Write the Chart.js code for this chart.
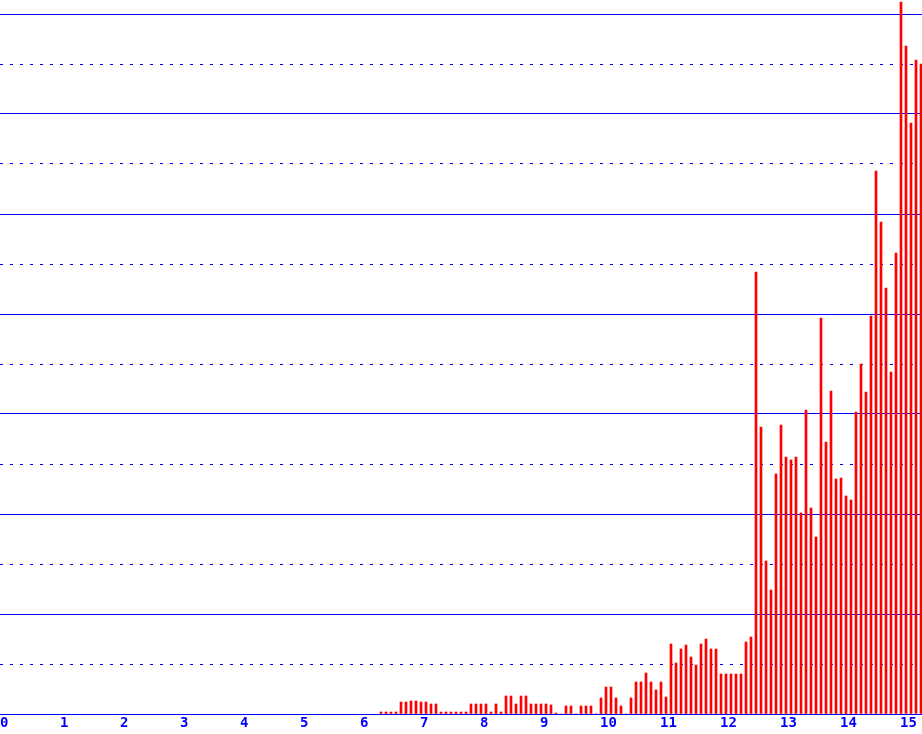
<!DOCTYPE html>
<html>
<head>
<meta charset="utf-8">
<script src="https://cdn.jsdelivr.net/npm/chart.js@4"></script>
<style>
  html, body { margin: 0; padding: 0; background: #fff; }
  #wrap { width: 922px; height: 734px; position: relative; }
</style>
</head>
<body>
<div id="wrap"><canvas id="chart"></canvas></div>
<script>
// x axis labels (integer ticks) and horizontal grid levels
const xTicks = [0, 1, 2, 3, 4, 5, 6, 7, 8, 9, 10, 11, 12, 13, 14, 15];
const yGrid = [0, 50, 100, 150, 200, 250, 300, 350, 400, 450, 500, 550, 600, 650, 700];

// bars sit every 1/12 of a unit, the first one just past 6.3
const barStart = 6.35;
const barStep = 1 / 12;
const barHeights = [
  2, 2, 2, 2, 12, 12, 13, 13, 12, 12, 10, 10,
  2, 2, 2, 2, 2, 2, 10, 10, 10, 10, 2, 10,
  2, 18, 18, 10, 18, 18, 10, 10, 10, 10, 9, 1,
  0, 8, 8, 0, 8, 8, 8, 0, 16, 27, 27, 16,
  8, 0, 16, 32, 32, 41, 32, 24, 32, 17, 70, 51,
  65, 69, 57, 49, 70, 75, 65, 65, 40, 40, 40, 40,
  40, 72, 77, 442, 287, 153, 124, 240, 289, 257, 254, 257,
  201, 304, 206, 177, 396, 272, 323, 235, 236, 218, 214, 302,
  350, 322, 398, 543, 492, 426, 342, 461, 712, 668, 591, 654,
  650,
];

const X_MAX = 922 / 60;
const Y_MAX = 714;

const points = barHeights.map((h, i) => ({ x: barStart + i * barStep, y: h }));

new Chart(document.getElementById("chart"), {
  type: "bar",
  data: {
    datasets: [
      {
        data: points,
        backgroundColor: "#ff0000",
        borderWidth: 0,
        barThickness: 2,
      },
    ],
  },
  options: {
    responsive: true,
    maintainAspectRatio: false,
    animation: false,
    layout: { padding: 0 },
    plugins: { legend: { display: false }, tooltip: { enabled: false } },
    scales: {
      x: {
        type: "linear",
        min: 0,
        max: X_MAX,
        offset: false,
        grid: { display: false, offset: false },
        border: { display: false },
        ticks: {
          color: "#0000ff",
          font: { family: "DejaVu Sans Mono", size: 14, weight: "bold" },
          align: "start",
          padding: -7,
          maxRotation: 0,
          autoSkip: false,
        },
        afterBuildTicks: (s) => { s.ticks = xTicks.map((v) => ({ value: v })); },
        afterFit: (s) => { s.height = 20; s.paddingLeft = 0; s.paddingRight = 0; },
      },
      y: {
        min: 0,
        max: Y_MAX,
        ticks: { display: false },
        grid: { color: "#0000ff", lineWidth: 1, drawTicks: false },
        border: {
          display: false,
          dash: (ctx) => (ctx.tick && ctx.tick.value % 100 ? [3, 7] : []),
        },
        afterBuildTicks: (s) => { s.ticks = yGrid.map((v) => ({ value: v })); },
        afterFit: (s) => { s.width = 0; },
      },
    },
  },
});
</script>
</body>
</html>
